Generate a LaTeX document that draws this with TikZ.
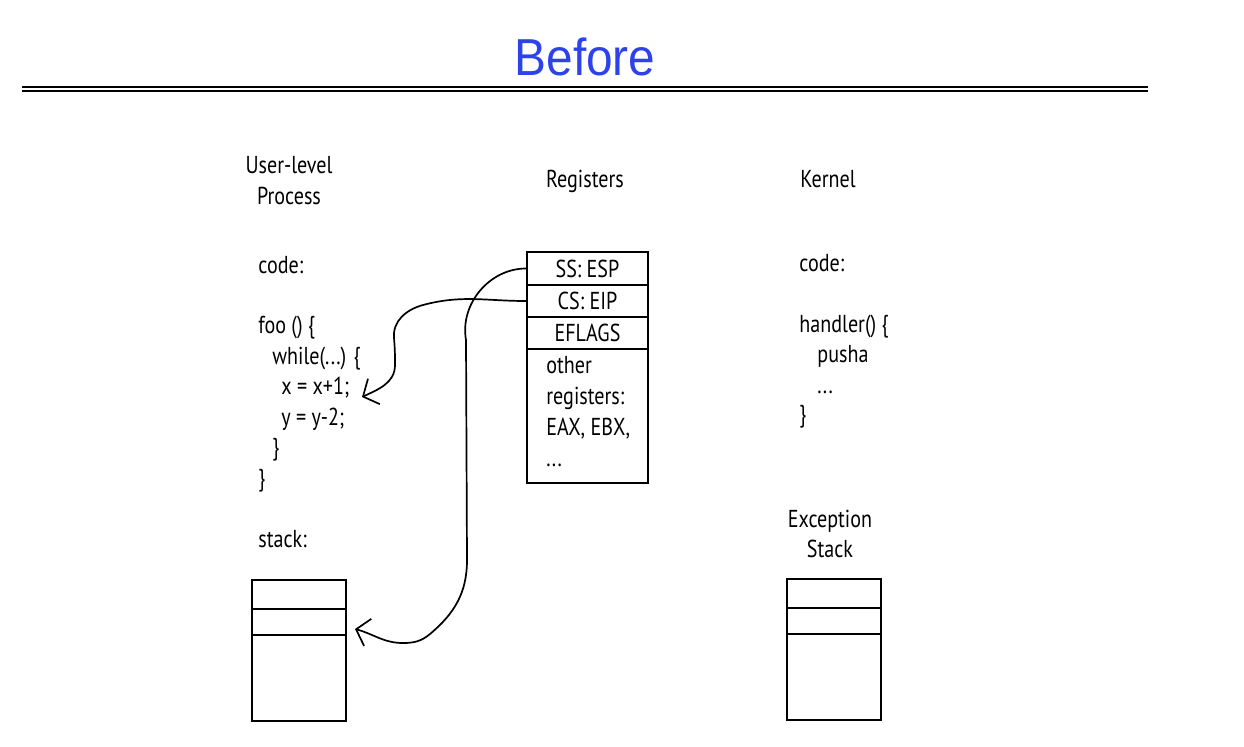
\documentclass[tikz,border=0pt]{standalone}
\usepackage{fontspec}
\setmainfont{PT Sans}[FakeStretch=0.82]
\newfontfamily\titlefont{Liberation Sans}[FakeStretch=0.92]
\usetikzlibrary{arrows.meta}
\definecolor{titleblue}{RGB}{45,66,234}

\begin{document}
\begin{tikzpicture}[x=0.5pt,y=-0.5pt,
  txt/.style={inner sep=0pt,anchor=base west},
  hdr/.style={inner sep=0pt,anchor=base},
  cell/.style={draw,line width=1pt,minimum width=60.5pt,inner sep=0pt},
  slot/.style={draw,line width=1pt,minimum width=47pt,inner sep=0pt},
  arr/.style={line width=0.85pt,-{Straight Barb[length=6pt,width=14pt]}}]
\fontsize{12.25}{15.5}\selectfont
\useasboundingbox (0,0) rectangle (1244,746);

\node[inner sep=0pt,text=titleblue,font=\titlefont\fontsize{26}{30}\selectfont] (title) at (585,57) {Before};
\draw[line width=0.75pt] (22,87) -- (1148,87);
\draw[line width=0.75pt] (22,91) -- (1148,91);

\node[hdr] (user) at (289,173) {User-level};
\node[hdr] (proc) at (289,204) {Process};
\node[hdr] (regs) at (585,187) {Registers};
\node[txt] (kern) at (800,187) {Kernel};

\node[txt] (ucode) at (258,273) {code:};
\node[txt] (foo) at (258,333) {foo () \{};
\node[txt] (while) at (272,364) {while(...) \{};
\node[txt] (incx) at (281,394) {x = x+1;};
\node[txt] (decy) at (281,425) {y = y-2;};
\node[txt] (endw) at (272,455) {\}};
\node[txt] (endf) at (258,486) {\}};
\node[txt] (ustk) at (258,547) {stack:};

\node[slot,minimum height=14.5pt] (us1) at (299,594.5) {};
\node[slot,minimum height=13pt] (us2) at (299,622) {};
\node[slot,minimum height=43pt] (us3) at (299,678) {};

\node[cell,minimum height=16.5pt] (esp) at (587.5,268.5) {SS: ESP};
\node[cell,minimum height=16pt] (eip) at (587.5,301) {CS: EIP};
\node[cell,minimum height=16pt] (flags) at (587.5,333) {EFLAGS};
\node[cell,minimum height=67pt] (other) at (587.5,416) {};
\node[txt] (oth1) at (546,373) {other};
\node[txt] (oth2) at (546,404) {registers:};
\node[txt] (oth3) at (546,435) {EAX, EBX,};
\node[txt] (oth4) at (546,466) {...};

\node[txt] (kcode) at (799,271) {code:};
\node[txt] (hand) at (799,332) {handler() \{};
\node[txt] (pusha) at (817,362) {pusha};
\node[txt] (kdots) at (817,393) {...};
\node[txt] (endh) at (799,422) {\}};

\node[hdr] (exc) at (830,527) {Exception};
\node[hdr] (estk) at (830,557) {Stack};
\node[slot,minimum height=14.5pt] (ks1) at (834,593.5) {};
\node[slot,minimum height=13pt] (ks2) at (834,621) {};
\node[slot,minimum height=43pt] (ks3) at (834,677) {};

\coordinate (pc) at (362,397);
\coordinate (sp) at (355,629);
\draw[arr] (eip.west) to[out=180,in=15] (423,305) to[out=195,in=95] (394,338)
  to[out=-85,in=90] (395,365) to[out=-90,in=25] (pc);
\draw[arr] (esp.west) to[out=180,in=100] (466,340) -- (467,560)
  to[out=-90,in=40] (430,634) to[out=220,in=0] (403,643) to[out=180,in=-15] (sp);

\end{tikzpicture}
\end{document}
